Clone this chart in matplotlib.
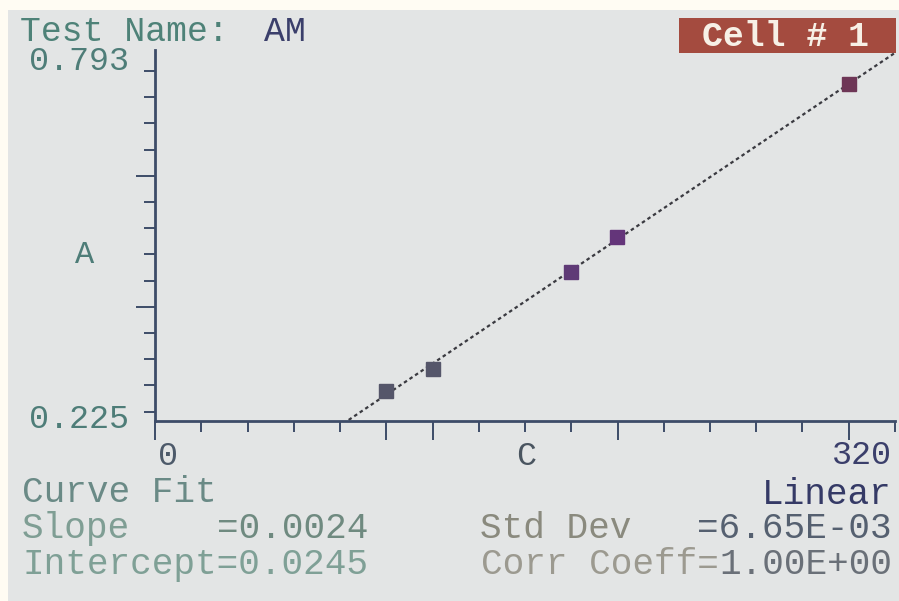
import numpy as np
import matplotlib
matplotlib.use("Agg")
import matplotlib.pyplot as plt
from matplotlib.patches import Rectangle

# standards (concentration, absorbance)
conc = [106.7, 128.0, 192.0, 213.3, 320.0]
absorb = [0.260, 0.297, 0.458, 0.517, 0.771]
point_colors = ["#55566a", "#55566a", "#5f3a76", "#64357a", "#6e3656"]

test_name = "AM"
cell_label = "Cell # 1"
y_min_label, y_max_label = "0.225", "0.793"
x_max_label = "320"
fit_name = "Linear"
slope_txt = "=0.0024"
intercept_txt = "=0.0245"
stddev_txt = "=6.65E-03"
corr_txt = "1.00E+00"

W, H = 899, 601
fig = plt.figure(figsize=(W / 100, H / 100), dpi=100)
fig.patch.set_facecolor("#fffcf3")

def fx(px):
    return px / W

def fy(py):
    return 1 - py / H

# screen area (behind the axes)
fig.patches.append(Rectangle((fx(8), 0), 1, fy(10), transform=fig.transFigure,
                             facecolor="#e3e5e5", edgecolor="none", zorder=-5))

ax = fig.add_axes([fx(155), fy(420.7), 740 / W, 370.7 / H])
ax.set_zorder(2)
ax.set_facecolor("none")
xmax = 320 * 16 / 15
ax.set_xlim(0, xmax)
ypx = (0.793 - 0.225) / 340.7
ax.set_ylim(0.225 - 9 * ypx, 0.793 + 21 * ypx)

for s in ["top", "right"]:
    ax.spines[s].set_visible(False)
axis_col = "#3d4c68"
for s in ["left", "bottom"]:
    ax.spines[s].set_color(axis_col)
    ax.spines[s].set_linewidth(2)

# ticks
xstep = 320 / 15
xticks = [i * xstep for i in range(17)]
long_x = [xticks[i] for i in (0, 5, 6, 10, 15)]
ystep = (0.793 - 0.225) / 13
yticks = [0.225 + i * ystep for i in range(14)]
long_y = [yticks[i] for i in (4, 9)]
ax.set_xticks(long_x)
ax.set_xticks([t for t in xticks if t not in long_x], minor=True)
ax.set_yticks(long_y)
ax.set_yticks([t for t in yticks if t not in long_y], minor=True)
ax.tick_params(which="major", length=14, width=1.4, color=axis_col,
               labelbottom=False, labelleft=False)
ax.tick_params(which="minor", length=8, width=1.4, color=axis_col)

# fitted line
coef = np.polyfit(conc, absorb, 1)
xx = np.linspace(0, xmax, 50)
ax.plot(xx, np.polyval(coef, xx), color="#3a3a40", lw=1.6,
        linestyle=(0, (1.6, 1.4)), zorder=2)
for xv, yv, c in zip(conc, absorb, point_colors):
    ax.plot(xv, yv, marker="s", ms=9.5, color=c, mec=c, zorder=3)

font = "Liberation Mono"
fs = 26
cw = 0.6 * fs * 100 / 72  # monospace advance in pixels

def put(px, py, s, color, ha="left", weight="normal", size=fs):
    fig.text(fx(px), fy(py), s, color=color, ha=ha, va="baseline",
             family=font, fontsize=size, weight=weight)

# header
put(20, 41, "Test Name:", "#4e8278", size=25)
put(264, 41, test_name, "#3b3f6b", size=25)
fig.patches.append(Rectangle((fx(679), fy(53)), fx(896) - fx(679), fy(18) - fy(53),
                             transform=fig.transFigure, facecolor="#a44b3f",
                             edgecolor="none", zorder=1))
put(786, 46, cell_label, "#f7f0e6", ha="center", weight="bold", size=25)

# axis labels
put(129, 70, y_max_label, "#4e7d78", ha="right", size=24)
put(129, 428, y_min_label, "#4e7d78", ha="right", size=24)
put(85, 263, "A", "#4e7d78", ha="center", size=23)
put(168, 465, "0", "#4d5a6a", ha="center", size=24)
put(526, 465, "C", "#4a5560", ha="center", size=24)
put(892, 464, x_max_label, "#3b3f6b", ha="right", size=24)

# fit summary
left0 = 22
right0 = 892
put(left0, 502, "Curve Fit", "#6a8a86")
put(right0, 504, fit_name, "#353a66", ha="right")
put(left0, 538, "Slope", "#7f9e94")
put(left0 + 9 * cw, 538, slope_txt, "#6f8a80")
put(left0, 574, "Intercept" + intercept_txt, "#7fa096")
put(right0 - 19 * cw, 538, "Std Dev", "#8a8a7e")
put(right0, 538, stddev_txt, "#556070", ha="right")
put(right0 - len(corr_txt) * cw, 574, "Corr Coeff=", "#9c9a90", ha="right")
put(right0, 574, corr_txt, "#6a7078", ha="right")

fig.savefig("out.png", dpi=100, facecolor=fig.get_facecolor())
